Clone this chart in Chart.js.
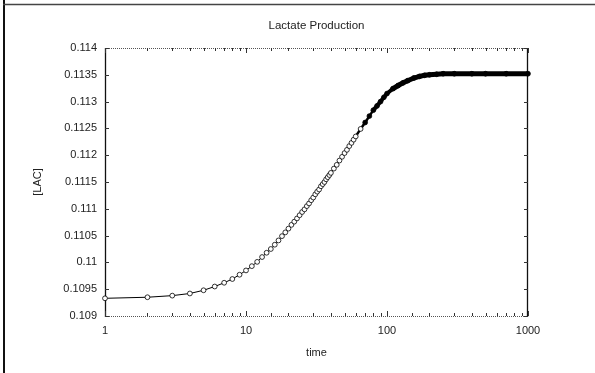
<!DOCTYPE html>
<html>
<head>
<meta charset="utf-8">
<script src="https://cdn.jsdelivr.net/npm/chart.js@4/dist/chart.umd.min.js"></script>
<style>
    html, body { margin: 0; padding: 0; background: #fff; }
    #wrap { width: 595px; height: 373px; }
</style>
</head>
<body>
<div id="wrap"><canvas id="lacChart" width="595" height="373"></canvas></div>
<script>
// values
const times = [1, 2, 3, 4, 5, 6, 7, 8, 9, 10,
    11, 12, 13, 14, 15, 16, 17, 18, 19, 20,
    21, 22, 23, 24, 25, 26, 27, 28, 29, 30,
    31, 32, 33, 34, 35, 36, 37, 38, 39, 40,
    42, 44, 46, 48, 50, 52, 54, 56, 58, 60,
    65, 70, 75, 80, 85, 90, 95, 100,
    110, 120, 130, 140, 155, 170, 185, 200, 225, 250,
    300, 400, 500, 700, 1000];
const lacValues = [0.10933, 0.10935, 0.10938, 0.10942, 0.10948, 0.10955, 0.10962, 0.10969, 0.10977, 0.10985,
    0.10993, 0.11001, 0.11010, 0.11018, 0.11025, 0.11033, 0.11041, 0.11049, 0.11056, 0.11063,
    0.11070, 0.11076, 0.11082, 0.11088, 0.11094, 0.11099, 0.11105, 0.11110, 0.11116, 0.11121,
    0.11127, 0.11132, 0.11136, 0.11142, 0.11146, 0.11150, 0.11155, 0.11159, 0.11163, 0.11167,
    0.11175, 0.11182, 0.11190, 0.11197, 0.11204, 0.11210, 0.11217, 0.11223, 0.11229, 0.11235,
    0.11249, 0.11261, 0.11273, 0.11284, 0.11292, 0.11300, 0.11308, 0.11315,
    0.11324, 0.11330, 0.11335, 0.11339, 0.11344, 0.11347, 0.11349, 0.11350, 0.11351, 0.11352,
    0.11352, 0.11352, 0.11352, 0.11352, 0.11352];
const xTickLabels = [1, 10, 100, 1000];
const yTicks = [0.109, 0.1095, 0.11, 0.1105, 0.111, 0.1115, 0.112, 0.1125, 0.113, 0.1135, 0.114];
const yTickLabels = ['0.109', '0.1095', '0.11', '0.1105', '0.111', '0.1115', '0.112', '0.1125', '0.113', '0.1135', '0.114'];

const FONT = 'Liberation Sans, Arial, sans-serif';
const INK = '#222';

// axes box, inward tick marks and the outer frame lines
const plotFramePlugin = {
    id: 'plotFrame',
    beforeDatasetsDraw(chart) {
        const { ctx, chartArea: { left, right, top, bottom }, scales: { x, y } } = chart;
        ctx.save();
        ctx.lineWidth = 1;

        // top / bottom: thin dotted
        ctx.strokeStyle = '#555';
        ctx.setLineDash([1, 1]);
        ctx.beginPath();
        ctx.moveTo(left, top + 0.5);
        ctx.lineTo(right, top + 0.5);
        ctx.moveTo(left, bottom + 0.5);
        ctx.lineTo(right, bottom + 0.5);
        ctx.stroke();
        ctx.setLineDash([]);

        // left / right: solid
        ctx.strokeStyle = '#111';
        ctx.lineWidth = 1.3;
        ctx.beginPath();
        ctx.moveTo(left + 0.5, top);
        ctx.lineTo(left + 0.5, bottom + 1);
        ctx.moveTo(right - 0.5, top);
        ctx.lineTo(right - 0.5, bottom + 1);
        ctx.stroke();

        ctx.lineWidth = 1;
        ctx.strokeStyle = '#333';
        ctx.beginPath();
        x.ticks.forEach((tick) => {
            const px = Math.round(x.getPixelForValue(tick.value)) + 0.5;
            const len = xTickLabels.includes(tick.value) ? 5 : 3;
            ctx.moveTo(px, bottom);
            ctx.lineTo(px, bottom - len);
            ctx.moveTo(px, top);
            ctx.lineTo(px, top + len);
        });
        y.ticks.forEach((tick) => {
            const py = Math.round(y.getPixelForValue(tick.value)) + 0.5;
            ctx.moveTo(left, py);
            ctx.lineTo(left + 4, py);
            ctx.moveTo(right, py);
            ctx.lineTo(right - 4, py);
        });
        ctx.stroke();

        // outer frame (left and top edges only)
        ctx.strokeStyle = '#111';
        ctx.lineWidth = 2;
        ctx.beginPath();
        ctx.moveTo(4, 0);
        ctx.lineTo(4, chart.height);
        ctx.stroke();
        ctx.strokeStyle = '#444';
        ctx.lineWidth = 1.5;
        ctx.beginPath();
        ctx.moveTo(3, 4.5);
        ctx.lineTo(chart.width, 4.5);
        ctx.stroke();
        ctx.restore();
    }
};
Chart.register(plotFramePlugin);

function segWidth(t) {
    if (t >= 110) return 5;
    if (t >= 80) return 4;
    if (t >= 55) return 2.5;
    return 1;
}

new Chart(document.getElementById('lacChart').getContext('2d'), {
    type: 'line',
    data: {
        datasets: [{
            data: times.map((t, i) => ({ x: t, y: lacValues[i] })),
            borderColor: '#000',
            borderWidth: 1,
            tension: 0,
            clip: false,
            pointStyle: 'circle',
            pointRadius: 2.4,
            pointBorderWidth: 0.8,
            pointBorderColor: '#000',
            pointBackgroundColor: (c) => (c.raw && c.raw.x >= 70 ? '#000' : '#fff'),
            segment: {
                borderWidth: (c) => segWidth(c.p0.parsed.x)
            }
        }]
    },
    options: {
        responsive: false,
        animation: false,
        layout: { padding: { left: 0, right: 67, top: 0, bottom: 0 } },
        plugins: {
            legend: { display: false },
            tooltip: { enabled: false },
            title: {
                display: true,
                fullSize: false,
                text: 'Lactate Production',
                color: INK,
                font: { family: FONT, size: 11.5, weight: 'normal' },
                padding: { top: 18.8, bottom: 15.4 }
            }
        },
        scales: {
            x: {
                type: 'logarithmic',
                min: 1,
                max: 1000,
                grid: { display: false, drawTicks: false },
                border: { display: false },
                ticks: {
                    autoSkip: false,
                    maxRotation: 0,
                    padding: 8,
                    color: INK,
                    font: { family: FONT, size: 11 },
                    callback: (v) => (xTickLabels.includes(v) ? String(v) : '')
                },
                title: {
                    display: true,
                    text: 'time',
                    color: INK,
                    font: { family: FONT, size: 11 },
                    padding: { top: 0, bottom: 13.4 }
                },
                afterFit: (scale) => { scale.height = 57; }
            },
            y: {
                min: 0.109,
                max: 0.114,
                grid: { display: false, drawTicks: false },
                border: { display: false },
                afterBuildTicks: (scale) => { scale.ticks = yTicks.map((v) => ({ value: v })); },
                ticks: {
                    padding: 8,
                    color: INK,
                    font: { family: FONT, size: 11 },
                    callback: (v, i) => yTickLabels[i]
                },
                title: {
                    display: true,
                    text: '[LAC]',
                    color: INK,
                    font: { family: FONT, size: 11 },
                    padding: { top: 31.4, bottom: 0 }
                },
                afterFit: (scale) => { scale.width = 105; }
            }
        }
    }
});
</script>
</body>
</html>
